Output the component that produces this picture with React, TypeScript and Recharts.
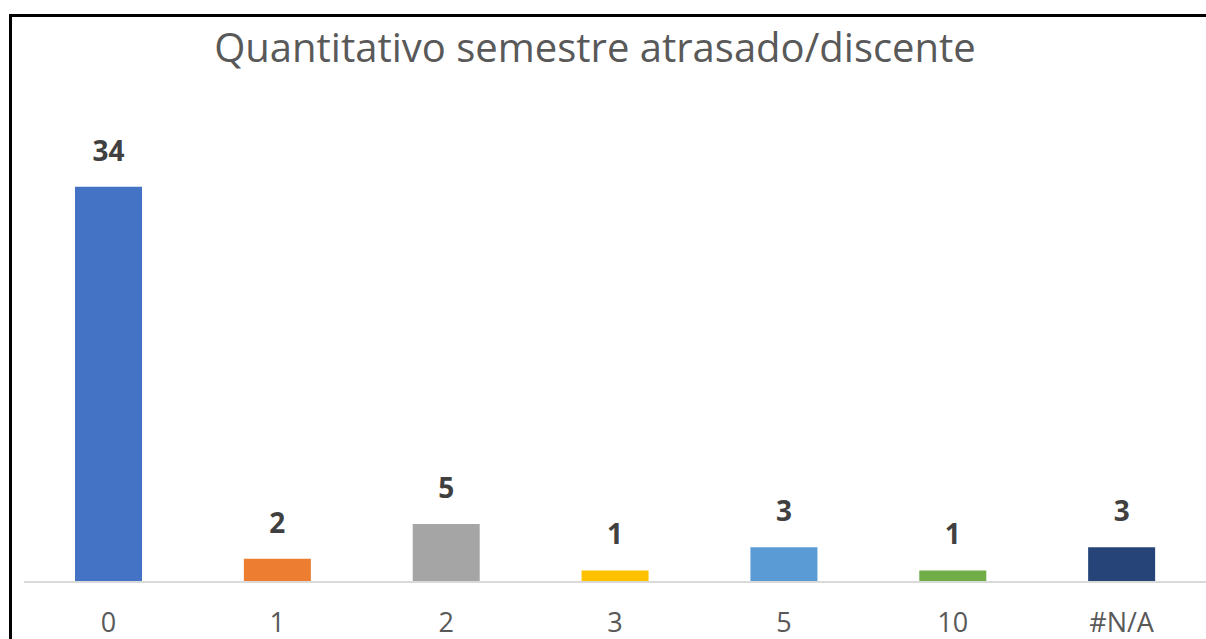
import { BarChart, Bar, XAxis, YAxis, LabelList, Cell } from "recharts";

// Semestres atrasados por discente
const categories = ["0", "1", "2", "3", "5", "10", "#N/A"];
const counts = [34, 2, 5, 1, 3, 1, 3];
const colors = ["#4472C4", "#ED7D31", "#A5A5A5", "#FFC000", "#5B9BD5", "#70AD47", "#264478"];

const chartData = categories.map((name, i) => ({ name, value: counts[i] }));

const font = "'Open Sans', 'Noto Sans', sans-serif";

export default function App() {
  return (
    <div
      style={{
        position: "absolute",
        left: 0,
        top: 0,
        width: 1206,
        height: 639,
        background: "#fff",
        overflow: "hidden",
        fontFamily: font,
      }}
    >
      {/* moldura preta: só esquerda e topo aparecem */}
      <div style={{ position: "absolute", left: 9, top: 14, width: 3, height: 625, background: "#000" }} />
      <div style={{ position: "absolute", left: 9, top: 14, width: 1210, height: 3, background: "#000" }} />
      <div
        style={{
          position: "absolute",
          left: 0,
          top: 19,
          width: 1190,
          textAlign: "center",
          fontSize: 40,
          lineHeight: "normal",
          color: "#595959",
          whiteSpace: "nowrap",
        }}
      >
        Quantitativo semestre atrasado/discente
      </div>
      <div style={{ position: "absolute", left: 0, top: 0 }}>
        <BarChart
          width={1230}
          height={639}
          data={chartData}
          accessibilityLayer={false}
          margin={{ top: 117, right: 24, left: 24, bottom: 0 }}
        >
          <XAxis
            dataKey="name"
            height={57}
            axisLine={{ stroke: "#D9D9D9", strokeWidth: 2 }}
            tickLine={false}
            tickMargin={25}
            interval={0}
            tick={{ fill: "#595959", fontSize: 27, fontFamily: font }}
          />
          <YAxis hide domain={[0, 40]} />
          <Bar dataKey="value" barSize={67} isAnimationActive={false}>
            {chartData.map((_, i) => (
              <Cell key={`cell-${i}`} fill={colors[i]} />
            ))}
            <LabelList
              dataKey="value"
              position="top"
              offset={26}
              style={{ fill: "#404040", fontSize: 28, fontWeight: 700, fontFamily: font }}
            />
          </Bar>
        </BarChart>
      </div>
    </div>
  );
}
